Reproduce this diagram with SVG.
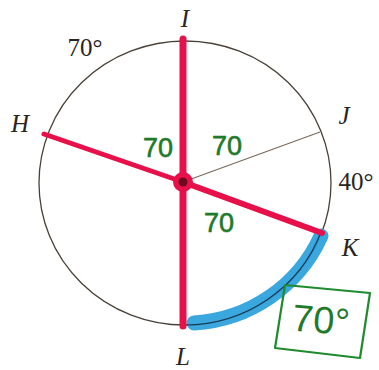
<svg xmlns="http://www.w3.org/2000/svg" width="379" height="370" viewBox="0 0 379 370">
<style>
.lbl{font-family:"Liberation Serif","DejaVu Serif",serif;font-size:25px;fill:#2a2420}
.it{font-style:italic}
.g{font-family:"Liberation Sans","DejaVu Sans",sans-serif;font-size:27px;fill:#1f7a2a;stroke:#1f7a2a;stroke-width:0.6}
.red{stroke:#e8104a;stroke-linecap:round;fill:none}
</style>
<rect width="379" height="370" fill="#ffffff"/>
<g id="circle">
<ellipse cx="185" cy="183" rx="146" ry="142" fill="none" stroke="#4a4038" stroke-width="1.3"/>
</g>
<g id="arc-KL">
<path d="M 321 236 A 149 147 0 0 1 194 323" fill="none" stroke="#2aa0dc" stroke-width="15" stroke-linecap="round" opacity="0.92"/>
<path d="M 321 232 A 146 142 0 0 1 185 325" fill="none" stroke="#1a3a50" stroke-width="1.2"/>
</g>
<g id="connectors">
<line x1="183" y1="182" x2="320" y2="132" stroke="#7a6a5a" stroke-width="1.2"/>
<line class="red" x1="183" y1="39" x2="183" y2="326" stroke-width="7"/>
<line class="red" x1="44" y1="134" x2="183" y2="182" stroke-width="5"/>
<line class="red" x1="183" y1="182" x2="322" y2="233" stroke-width="6"/>
</g>
<g id="center">
<circle cx="183" cy="182" r="10" fill="#e8104a"/>
<circle cx="183" cy="182" r="4.5" fill="#6b0a1e"/>
</g>
<g id="labels">
<text class="lbl it" x="185" y="27" text-anchor="middle">I</text>
<text class="lbl it" x="20" y="132" text-anchor="middle">H</text>
<text class="lbl it" x="344" y="124" text-anchor="middle">J</text>
<text class="lbl it" x="350" y="256" text-anchor="middle">K</text>
<text class="lbl it" x="183" y="365" text-anchor="middle">L</text>
<text class="lbl" x="85" y="56" text-anchor="middle">70°</text>
<text class="lbl" x="356" y="190" text-anchor="middle">40°</text>
</g>
<g id="green">
<text class="g" x="158" y="157" text-anchor="middle">70</text>
<text class="g" x="227" y="155" text-anchor="middle">70</text>
<text class="g" x="219" y="232" text-anchor="middle">70</text>
</g>
<g id="box">
<polygon points="285,285 370,293 360,358 275,348" fill="none" stroke="#1f8a2e" stroke-width="2.2" stroke-linejoin="round"/>
<text x="321" y="333" text-anchor="middle" font-family="Liberation Sans,DejaVu Sans,sans-serif" font-size="38" fill="#1f7a2a" transform="rotate(5 321 320)">70°</text>
</g>
</svg>
